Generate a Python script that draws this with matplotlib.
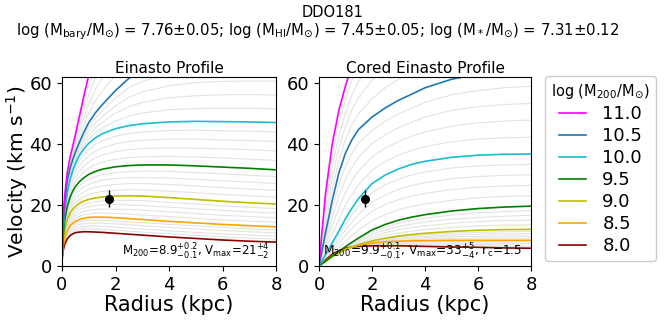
import numpy as np
import matplotlib.pyplot as plt

# ------------------ DATA ------------------
log_m200 = [8.0, 8.1, 8.2, 8.3, 8.4, 8.5, 8.6, 8.7, 8.8, 8.9,
            9.0, 9.1, 9.2, 9.3, 9.4, 9.5, 9.6, 9.7, 9.8, 9.9,
            10.0, 10.1, 10.2, 10.3, 10.4, 10.5, 10.6, 10.7, 10.8, 10.9, 11.0]

# Einasto (left panel): velocity in km/s at these radii (kpc), one row per log M200
r_einasto = [0.01, 0.05, 0.1, 0.2, 0.3, 0.4, 0.5, 0.65, 0.8, 1.0,
             1.25, 1.5, 2, 2.5, 3, 4, 5, 6, 7, 8]
v_einasto = [
    [2.5, 5.2, 7.0, 8.9, 9.9, 10.5, 10.9, 11.1, 11.2, 11.2, 11.1, 11.0, 10.7, 10.4, 10.1, 9.5, 9.0, 8.5, 8.1, 7.8],
    [2.6, 5.5, 7.4, 9.5, 10.5, 11.2, 11.6, 11.9, 12.1, 12.1, 12.1, 12.0, 11.7, 11.4, 11.1, 10.5, 10.0, 9.5, 9.1, 8.8],
    [2.7, 5.8, 7.8, 10.0, 11.2, 11.9, 12.4, 12.7, 12.9, 13.1, 13.1, 13.0, 12.7, 12.4, 12.1, 11.5, 11.0, 10.5, 10.1, 9.8],
    [2.8, 6.0, 8.2, 10.6, 11.8, 12.6, 13.1, 13.6, 13.8, 14.0, 14.0, 14.0, 13.8, 13.5, 13.2, 12.6, 12.1, 11.6, 11.2, 10.8],
    [2.9, 6.3, 8.6, 11.1, 12.5, 13.3, 13.9, 14.4, 14.7, 15.0, 15.0, 15.0, 14.8, 14.5, 14.2, 13.6, 13.1, 12.6, 12.2, 11.8],
    [3.0, 6.6, 9.0, 11.7, 13.1, 14.0, 14.6, 15.2, 15.6, 15.9, 16.0, 16.0, 15.8, 15.5, 15.2, 14.6, 14.1, 13.6, 13.2, 12.8],
    [3.1, 7.0, 9.6, 12.4, 13.9, 14.9, 15.6, 16.3, 16.7, 17.1, 17.3, 17.3, 17.2, 17.0, 16.7, 16.2, 15.6, 15.1, 14.7, 14.3],
    [3.2, 7.4, 10.1, 13.1, 14.8, 15.8, 16.6, 17.3, 17.8, 18.3, 18.5, 18.6, 18.6, 18.5, 18.3, 17.7, 17.2, 16.6, 16.2, 15.8],
    [3.3, 7.7, 10.7, 13.9, 15.6, 16.8, 17.5, 18.4, 19.0, 19.4, 19.8, 20.0, 20.1, 20.0, 19.8, 19.3, 18.7, 18.2, 17.7, 17.3],
    [3.4, 8.1, 11.2, 14.6, 16.5, 17.7, 18.5, 19.4, 20.1, 20.6, 21.0, 21.3, 21.5, 21.5, 21.4, 20.8, 20.3, 19.7, 19.2, 18.8],
    [3.5, 8.5, 11.8, 15.3, 17.3, 18.6, 19.5, 20.5, 21.2, 21.8, 22.3, 22.6, 22.9, 23.0, 22.9, 22.4, 21.8, 21.2, 20.7, 20.3],
    [3.6, 8.9, 12.4, 16.2, 18.3, 19.8, 20.8, 21.9, 22.7, 23.4, 24.0, 24.4, 24.8, 25.0, 24.9, 24.5, 24.0, 23.4, 23.0, 22.5],
    [3.7, 9.3, 13.0, 17.0, 19.4, 21.0, 22.1, 23.3, 24.2, 25.1, 25.8, 26.2, 26.7, 27.0, 27.0, 26.7, 26.2, 25.7, 25.2, 24.8],
    [3.8, 9.7, 13.6, 17.9, 20.4, 22.1, 23.4, 24.8, 25.8, 26.7, 27.5, 28.1, 28.7, 28.9, 29.0, 28.8, 28.4, 27.9, 27.5, 27.0],
    [3.9, 10.1, 14.2, 18.7, 21.5, 23.3, 24.7, 26.2, 27.3, 28.4, 29.3, 29.9, 30.6, 30.9, 31.1, 31.0, 30.6, 30.2, 29.7, 29.3],
    [4.0, 10.5, 14.8, 19.6, 22.5, 24.5, 26.0, 27.6, 28.8, 30.0, 31.0, 31.7, 32.5, 32.9, 33.1, 33.1, 32.8, 32.4, 32.0, 31.5],
    [4.1, 10.9, 15.4, 20.5, 23.7, 25.8, 27.5, 29.3, 30.7, 32.0, 33.2, 34.0, 35.0, 35.5, 35.8, 35.9, 35.7, 35.4, 35.0, 34.6],
    [4.2, 11.3, 16.0, 21.4, 24.8, 27.2, 29.0, 31.0, 32.6, 34.1, 35.4, 36.3, 37.5, 38.1, 38.5, 38.7, 38.6, 38.4, 38.1, 37.7],
    [4.3, 11.7, 16.6, 22.4, 26.0, 28.5, 30.5, 32.8, 34.4, 36.1, 37.6, 38.7, 40.0, 40.8, 41.2, 41.6, 41.6, 41.3, 41.1, 40.8],
    [4.4, 12.1, 17.2, 23.3, 27.1, 29.9, 32.0, 34.5, 36.3, 38.2, 39.8, 41.0, 42.5, 43.4, 43.9, 44.4, 44.5, 44.3, 44.2, 43.9],
    [4.5, 12.5, 17.8, 24.2, 28.3, 31.2, 33.5, 36.2, 38.2, 40.2, 42.0, 43.3, 45.0, 46.0, 46.6, 47.2, 47.4, 47.3, 47.2, 47.0],
    [4.6, 12.9, 18.4, 25.0, 29.0, 31.9, 34.3, 37.1, 39.3, 41.6, 43.6, 45.2, 47.5, 49.1, 50.1, 51.2, 51.6, 51.7, 51.7, 51.5],
    [4.7, 13.3, 19.0, 25.7, 29.8, 32.6, 35.0, 37.9, 40.3, 42.9, 45.3, 47.1, 50.0, 52.2, 53.6, 55.1, 55.8, 56.1, 56.2, 56.0],
    [4.8, 13.7, 19.6, 26.5, 30.5, 33.4, 35.8, 38.8, 41.4, 44.3, 46.9, 49.0, 52.5, 55.3, 57.0, 59.1, 60.1, 60.5, 60.6, 60.6],
    [4.9, 14.1, 20.2, 27.2, 31.3, 34.1, 36.5, 39.6, 42.4, 45.6, 48.6, 50.9, 55.0, 58.4, 60.5, 63.0, 64.3, 64.9, 65.1, 65.1],
    [5.0, 14.5, 20.8, 28.0, 32.0, 34.8, 37.3, 40.5, 43.5, 47.0, 50.2, 52.8, 57.5, 61.5, 64.0, 67.0, 68.5, 69.3, 69.6, 69.6],
    [5.1, 14.8, 21.2, 28.6, 32.7, 35.7, 38.4, 42.2, 45.8, 50.1, 54.1, 57.2, 62.6, 66.9, 69.7, 73.1, 74.9, 75.9, 76.4, 76.5],
    [5.2, 15.1, 21.7, 29.1, 33.4, 36.6, 39.6, 43.9, 48.1, 53.2, 57.9, 61.7, 67.7, 72.3, 75.4, 79.2, 81.3, 82.6, 83.2, 83.4],
    [5.3, 15.4, 22.1, 29.7, 34.1, 37.4, 40.7, 45.6, 50.4, 56.3, 61.8, 66.1, 72.8, 77.7, 81.1, 85.3, 87.7, 89.2, 89.9, 90.2],
    [5.4, 15.7, 22.6, 30.2, 34.8, 38.3, 41.9, 47.3, 52.7, 59.4, 65.6, 70.6, 77.9, 83.1, 86.8, 91.4, 94.1, 95.9, 96.7, 97.1],
    [5.5, 16.0, 23.0, 30.8, 35.5, 39.2, 43.0, 49.0, 55.0, 62.5, 69.5, 75.0, 83.0, 88.5, 92.5, 97.5, 100.5, 102.5, 103.5, 104.0],
]

# Cored Einasto (right panel)
r_cored = [0, 0.1, 0.25, 0.5, 0.75, 1, 1.25, 1.5, 2, 2.5, 3, 3.5, 4, 5, 6, 7, 8]
v_cored = [
    [0, 0.8, 2.0, 3.8, 5.0, 5.8, 6.2, 6.4, 6.6, 6.6, 6.6, 6.5, 6.4, 6.2, 6.1, 5.9, 5.8],
    [0, 0.8, 1.9, 3.7, 4.9, 5.7, 6.2, 6.5, 6.8, 6.9, 6.9, 6.8, 6.8, 6.6, 6.6, 6.4, 6.3],
    [0, 0.8, 1.9, 3.6, 4.8, 5.7, 6.2, 6.6, 7.0, 7.1, 7.2, 7.2, 7.2, 7.1, 7.0, 6.9, 6.8],
    [0, 0.7, 1.8, 3.5, 4.8, 5.6, 6.2, 6.6, 7.1, 7.4, 7.5, 7.5, 7.5, 7.5, 7.5, 7.4, 7.4],
    [0, 0.7, 1.8, 3.4, 4.7, 5.6, 6.2, 6.7, 7.3, 7.6, 7.8, 7.9, 7.9, 8.0, 8.0, 7.9, 7.9],
    [0, 0.7, 1.7, 3.3, 4.6, 5.5, 6.2, 6.8, 7.5, 7.9, 8.1, 8.2, 8.3, 8.4, 8.4, 8.4, 8.4],
    [0, 0.7, 1.7, 3.2, 4.5, 5.5, 6.2, 6.8, 7.6, 8.1, 8.4, 8.6, 8.8, 9.0, 9.1, 9.1, 9.1],
    [0, 0.7, 1.6, 3.2, 4.4, 5.4, 6.2, 6.9, 7.8, 8.4, 8.8, 9.0, 9.3, 9.6, 9.7, 9.8, 9.8],
    [0, 0.6, 1.6, 3.1, 4.4, 5.4, 6.2, 6.9, 7.9, 8.6, 9.1, 9.5, 9.7, 10.1, 10.4, 10.5, 10.6],
    [0, 0.6, 1.5, 3.1, 4.3, 5.3, 6.2, 7.0, 8.1, 8.9, 9.5, 9.9, 10.2, 10.7, 11.0, 11.2, 11.3],
    [0, 0.6, 1.5, 3.0, 4.2, 5.3, 6.2, 7.0, 8.2, 9.1, 9.8, 10.3, 10.7, 11.3, 11.7, 11.9, 12.0],
    [0, 0.6, 1.5, 3.0, 4.3, 5.5, 6.5, 7.4, 8.9, 10.0, 10.8, 11.4, 11.9, 12.6, 13.1, 13.4, 13.5],
    [0, 0.6, 1.5, 3.1, 4.4, 5.7, 6.8, 7.9, 9.6, 10.9, 11.9, 12.6, 13.1, 14.0, 14.5, 14.9, 15.0],
    [0, 0.6, 1.6, 3.1, 4.6, 5.9, 7.2, 8.3, 10.4, 11.8, 12.9, 13.7, 14.4, 15.3, 15.9, 16.3, 16.6],
    [0, 0.6, 1.6, 3.2, 4.7, 6.1, 7.5, 8.8, 11.1, 12.7, 14.0, 14.9, 15.6, 16.7, 17.4, 17.8, 18.1],
    [0, 0.6, 1.6, 3.2, 4.8, 6.3, 7.8, 9.2, 11.8, 13.6, 15.0, 16.0, 16.8, 18.0, 18.8, 19.3, 19.6],
    [0, 0.8, 2.0, 4.1, 6.1, 8.1, 10.0, 11.8, 14.8, 16.8, 18.4, 19.5, 20.3, 21.5, 22.3, 22.8, 23.0],
    [0, 1.0, 2.5, 5.0, 7.4, 10.0, 12.3, 14.4, 17.9, 20.1, 21.7, 22.9, 23.8, 25.0, 25.8, 26.2, 26.4],
    [0, 1.1, 2.9, 5.8, 8.8, 11.8, 14.5, 17.0, 20.9, 23.3, 25.1, 26.4, 27.3, 28.6, 29.3, 29.7, 29.9],
    [0, 1.3, 3.4, 6.7, 10.1, 13.7, 16.8, 19.6, 24.0, 26.6, 28.4, 29.8, 30.8, 32.1, 32.8, 33.1, 33.3],
    [0, 1.5, 3.8, 7.6, 11.4, 15.5, 19.0, 22.2, 27.0, 29.8, 31.8, 33.3, 34.3, 35.6, 36.3, 36.6, 36.7],
    [0, 2.1, 5.2, 10.4, 15.2, 19.8, 23.5, 26.7, 31.4, 34.2, 36.3, 37.9, 39.1, 40.7, 41.6, 42.0, 42.2],
    [0, 2.7, 6.7, 13.2, 19.0, 24.1, 28.0, 31.2, 35.7, 38.6, 40.8, 42.5, 43.9, 45.8, 46.9, 47.5, 47.8],
    [0, 3.2, 8.1, 15.9, 22.9, 28.4, 32.5, 35.8, 40.1, 43.0, 45.3, 47.1, 48.8, 51.0, 52.2, 52.9, 53.3],
    [0, 3.8, 9.6, 18.7, 26.7, 32.7, 37.0, 40.3, 44.4, 47.4, 49.8, 51.7, 53.6, 56.1, 57.5, 58.4, 58.9],
    [0, 4.4, 11.0, 21.5, 30.5, 37.0, 41.5, 44.8, 48.8, 51.8, 54.3, 56.3, 58.4, 61.2, 62.8, 63.8, 64.4],
    [0, 5.5, 13.6, 25.2, 34.6, 41.4, 46.4, 50.0, 54.8, 58.4, 61.2, 63.4, 65.7, 68.8, 70.4, 71.6, 72.3],
    [0, 6.6, 16.2, 28.9, 38.7, 45.8, 51.3, 55.3, 60.9, 65.1, 68.2, 70.6, 73.0, 76.3, 78.1, 79.5, 80.2],
    [0, 7.8, 18.8, 32.6, 42.8, 50.2, 56.2, 60.5, 66.9, 71.7, 75.1, 77.7, 80.3, 83.9, 85.7, 87.3, 88.2],
    [0, 8.9, 21.4, 36.3, 46.9, 54.6, 61.1, 65.8, 73.0, 78.4, 82.1, 84.9, 87.7, 91.4, 93.4, 95.2, 96.1],
    [0, 10.0, 24.0, 40.0, 51.0, 59.0, 66.0, 71.0, 79.0, 85.0, 89.0, 92.0, 95.0, 99.0, 101.0, 103.0, 104.0],
]

# highlighted masses and their colours
highlight = {8.0: 'darkred', 8.5: 'orange', 9.0: 'y', 9.5: 'green',
             10.0: 'tab:cyan', 10.5: 'tab:blue', 11.0: 'magenta'}

# observed point
obs_r = 1.75
obs_v = 22.1
obs_err = 2.8

# ------------------ PLOT ------------------
fig = plt.figure(figsize=(6.65, 3.2), dpi=100)
ax1 = fig.add_axes([0.0932, 0.169, 0.322, 0.591])
ax2 = fig.add_axes([0.4797, 0.169, 0.3188, 0.591])


def draw_panel(ax, radii, curves, title):
    for m, v in zip(log_m200, curves):
        if m in highlight:
            continue
        ax.plot(radii, v, color='#e3e3e3', lw=0.8, zorder=1)
    for m, v in zip(log_m200, curves):
        if m in highlight:
            ax.plot(radii, v, color=highlight[m], lw=1.2, zorder=2)
    ax.errorbar(obs_r, obs_v, yerr=obs_err, fmt='o', color='black',
                ms=5.5, elinewidth=1, capsize=0, zorder=3)
    ax.set_xlim(0, 8)
    ax.set_ylim(0, 62)
    ax.set_xticks([0, 2, 4, 6, 8])
    ax.set_yticks([0, 20, 40, 60])
    ax.tick_params(labelsize=13)
    ax.set_title(title, fontsize=11, pad=3)
    ax.set_xlabel('Radius (kpc)', fontsize=15, labelpad=1)


draw_panel(ax1, r_einasto, v_einasto, 'Einasto Profile')
draw_panel(ax2, r_cored, v_cored, 'Cored Einasto Profile')
ax1.set_ylabel(r'Velocity (km s$^{-1}$)', fontsize=14.5, labelpad=0)

ax1.text(0.97, 0.02, r'M$_{200}$=8.9$^{+0.2}_{-0.1}$, V$_{\rm max}$=21$^{+4}_{-2}$',
         transform=ax1.transAxes, ha='right', va='bottom', fontsize=8.5)
ax2.text(0.96, 0.02, r'M$_{200}$=9.9$^{+0.1}_{-0.1}$, V$_{\rm max}$=33$^{+5}_{-4}$, r$_{\rm c}$=1.5',
         transform=ax2.transAxes, ha='right', va='bottom', fontsize=8.7)

# legend
handles = []
for m in sorted(highlight, reverse=True):
    h, = ax2.plot([], [], color=highlight[m], lw=1.2, label='%.1f' % m)
    handles.append(h)
fig.legend(handles=handles, loc='upper left', bbox_to_anchor=(0.806, 0.79),
           title=r'log (M$_{200}$/M$_{\odot}$)', title_fontsize=10.5, fontsize=13,
           handlelength=1.5, handletextpad=0.9, labelspacing=0.22,
           borderpad=0.35, framealpha=1, edgecolor='#cccccc')

fig.text(0.5, 0.96, 'DDO181', ha='center', va='center', fontsize=10.5)
fig.text(0.478, 0.9, r'log (M$_{\rm bary}$/M$_{\odot}$) = 7.76$\pm$0.05; '
         r'log (M$_{\rm HI}$/M$_{\odot}$) = 7.45$\pm$0.05; '
         r'log (M$_*$/M$_{\odot}$) = 7.31$\pm$0.12',
         ha='center', va='center', fontsize=10.7)

fig.savefig('out.png', dpi=100)
